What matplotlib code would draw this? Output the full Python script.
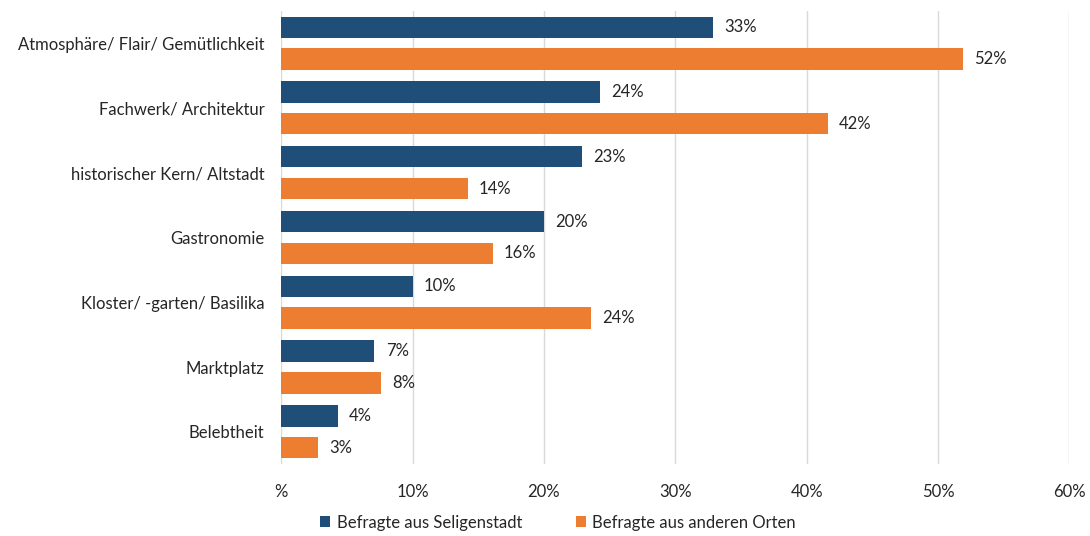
import matplotlib
matplotlib.use('Agg')
import matplotlib.pyplot as plt
import numpy as np

plt.rcParams['font.family'] = ['Lato', 'DejaVu Sans']

categories = ['Atmosphäre/ Flair/ Gemütlichkeit', 'Fachwerk/ Architektur',
              'historischer Kern/ Altstadt', 'Gastronomie',
              'Kloster/ -garten/ Basilika', 'Marktplatz', 'Belebtheit']
seligenstadt = [32.9, 24.3, 22.9, 20.0, 10.0, 7.1, 4.3]
andere_orte = [51.9, 41.6, 14.2, 16.1, 23.6, 7.6, 2.8]
xticks = [0, 10, 20, 30, 40, 50, 60]
xticklabels = ['%', '10%', '20%', '30%', '40%', '50%', '60%']

blue = '#1F4E79'
orange = '#ED7D31'
txt = '#262626'

fig = plt.figure(figsize=(10.9, 5.36), dpi=100)
ax = fig.add_axes([0.258, 0.134, 0.723, 0.846])

y = np.arange(len(categories))
h = 0.33
off = 0.245
b1 = ax.barh(y - off, seligenstadt, height=h, color=blue, label='Befragte aus Seligenstadt', zorder=3)
b2 = ax.barh(y + off, andere_orte, height=h, color=orange, label='Befragte aus anderen Orten', zorder=3)

# value labels to the right of each bar
for bars, vals in ((b1, seligenstadt), (b2, andere_orte)):
    for bar, v in zip(bars, vals):
        ax.text(v + 0.85, bar.get_y() + bar.get_height() / 2, f'{v:.0f}%',
                va='center', ha='left', fontsize=12, color=txt)

ax.set_ylim(len(categories) - 0.5, -0.5)
ax.set_xlim(0, 60)
ax.set_yticks(y)
ax.set_yticklabels(categories, fontsize=12, color=txt)
ax.set_xticks(xticks)
ax.set_xticklabels(xticklabels, fontsize=12, color=txt)
ax.tick_params(length=0, pad=14)
ax.tick_params(axis='y', pad=12)
ax.xaxis.grid(True, color='#D9D9D9', linewidth=1, zorder=0)
for s in ax.spines.values():
    s.set_visible(False)

fig.legend(handles=[b1, b2], loc='lower center', bbox_to_anchor=(0.512, -0.018),
           ncol=2, frameon=False, fontsize=12, handlelength=0.6, handleheight=0.6,
           handletextpad=0.4, columnspacing=3.2, labelcolor=txt)

fig.savefig('out.png', dpi=100)
